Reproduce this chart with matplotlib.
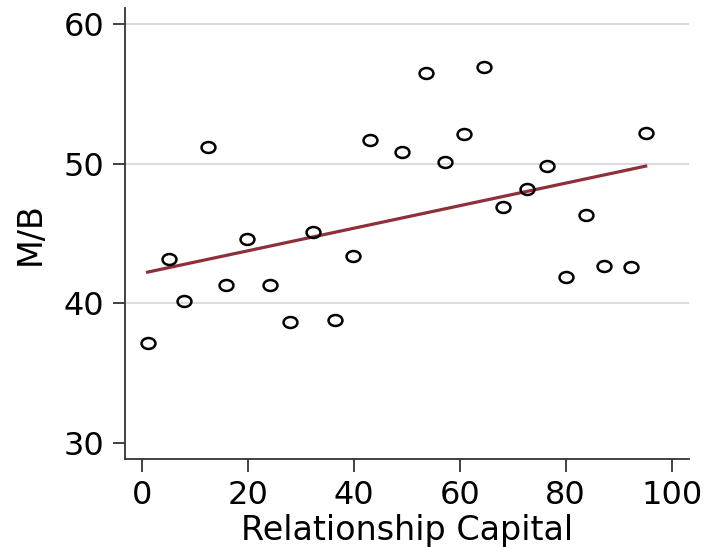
import numpy as np
import matplotlib
matplotlib.use("Agg")
import matplotlib.pyplot as plt
from matplotlib.path import Path

plt.rcParams['font.family'] = ['DejaVu Sans']

relationship_capital = [1.0, 5.1, 7.8, 12.5, 15.9, 19.8, 24.1, 28.0, 32.3, 36.5,
                        39.9, 43.1, 49.0, 53.6, 57.2, 60.7, 64.5, 68.2, 72.6, 76.4,
                        80.0, 83.8, 87.2, 92.3, 95.1]
mb = [37.2, 43.2, 40.2, 51.2, 41.3, 44.6, 41.3, 38.7, 45.1, 38.8,
      43.4, 51.7, 50.8, 56.5, 50.1, 52.1, 56.9, 46.9, 48.2, 49.8,
      41.9, 46.3, 42.7, 42.6, 52.2]
fit_intercept = 42.16
fit_slope = 0.0806
x_ticks = [0, 20, 40, 60, 80, 100]
y_ticks = [30, 40, 50, 60]

x = np.array(relationship_capital)
y = np.array(mb)

# slightly wide ellipse marker (reference is horizontally stretched)
circ = Path.unit_circle()
ell = Path(circ.vertices * np.array([1.27, 1.0]), circ.codes)

fig = plt.figure(figsize=(7.06, 5.47), dpi=100)
ax = fig.add_axes([0.177, 0.160, 0.799, 0.825])

for yt in y_ticks[1:]:
    ax.axhline(yt, color='#dcdcdc', lw=1.5, zorder=0)

xf = np.array([x.min(), x.max()])
ax.plot(xf, fit_intercept + fit_slope * xf, color='#8E2F3A', lw=2.3, zorder=2)
ax.plot(x, y, linestyle='none', marker=ell, markersize=10, markerfacecolor='none',
        markeredgecolor='black', markeredgewidth=1.8, zorder=3)

ax.set_xlim(-3.27, 103.3)
ax.set_ylim(28.84, 61.12)
ax.set_xticks(x_ticks)
ax.set_yticks(y_ticks)
ax.tick_params(axis='both', labelsize=23, length=9, width=1.3, color='#333333', pad=6)
for side in ['top', 'right']:
    ax.spines[side].set_visible(False)
for side in ['left', 'bottom']:
    ax.spines[side].set_linewidth(1.3)
    ax.spines[side].set_color('#333333')

ax.set_xlabel('Relationship Capital', fontsize=24, labelpad=2)
ax.set_ylabel('M/B', fontsize=24, labelpad=12)

fig.savefig('out.png', dpi=100)
